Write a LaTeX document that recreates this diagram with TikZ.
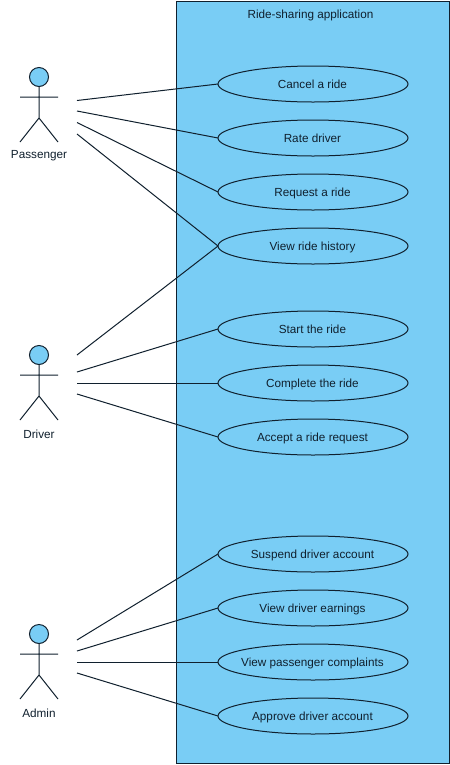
\documentclass[tikz,border=0pt]{standalone}
\usepackage{fontspec}
\setmainfont{Liberation Sans}
\usetikzlibrary{shapes.geometric}
\definecolor{fillblue}{HTML}{79CDF5}
\definecolor{inkdark}{HTML}{10202E}
\tikzset{
  x=0.75pt,y=-0.75pt,
  line/.style={draw=inkdark,line width=0.75pt},
  usecase/.style={ellipse,line,fill=fillblue,minimum width=142.5pt,minimum height=27pt,inner sep=0pt,outer sep=0pt,font=\fontsize{8.8}{11}\selectfont,text=inkdark},
  sysbox/.style={rectangle,line,fill=fillblue},
  actorlabel/.style={font=\fontsize{8.8}{11}\selectfont,text=inkdark,inner sep=0pt},
  head/.style={circle,line,fill=fillblue,minimum size=14.25pt,inner sep=0pt}
}
\newcommand{\uc}[1]{\makebox[0pt]{\vphantom{Apg}\hspace*{-0.8pt}\raisebox{-1.1pt}[0pt][0pt]{#1}}}
\newcommand{\stickactor}[7]{% name, head y, label, four line-start y
  \node[head] (#1head) at (39,#2) {};
  \coordinate (#1hip) at (39,#2+41);
  \coordinate (#1la) at (20,#2+20);
  \coordinate (#1ra) at (58,#2+20);
  \coordinate (#1ll) at (20,#2+65);
  \coordinate (#1rl) at (58,#2+65);
  \draw[line] (#1head.south) -- (#1hip) (#1la) -- (#1ra) (#1ll) -- (#1hip) -- (#1rl);
  \node[actorlabel] (#1label) at (39,#2+79) {#3};
  \coordinate (#1a) at (77,#4);
  \coordinate (#1b) at (77,#5);
  \coordinate (#1c) at (77,#6);
  \coordinate (#1d) at (77,#7);
}
\begin{document}
\begin{tikzpicture}
\useasboundingbox (0,0) rectangle (450,765);
\fill[white] (0,0) rectangle (450,765);
\draw[sysbox] (176.8,1.2) rectangle (449,763.8);
\node[actorlabel] (title) at (310.5,15) {Ride-sharing application};
\node[usecase] (cancel) at (313,84) {\uc{Cancel a ride}};
\node[usecase] (rate) at (313,138) {\uc{Rate driver}};
\node[usecase] (request) at (313,192) {\uc{Request a ride}};
\node[usecase] (history) at (313,246) {\uc{View ride history}};
\node[usecase] (start) at (313,329) {\uc{Start the ride}};
\node[usecase] (complete) at (313,383) {\uc{Complete the ride}};
\node[usecase] (accept) at (313,437) {\uc{Accept a ride request}};
\node[usecase] (suspend) at (313,554) {\uc{Suspend driver account}};
\node[usecase] (earnings) at (313,608) {\uc{View driver earnings}};
\node[usecase] (complaints) at (313,662) {\uc{View passenger complaints}};
\node[usecase] (approve) at (313,716) {\uc{Approve driver account}};
\stickactor{p}{77}{Passenger}{100.5}{111}{122.5}{134}
\stickactor{d}{355}{Driver}{355}{372}{383}{394}
\stickactor{m}{634}{Admin}{640}{651}{662}{673}
\draw[line] (pa) -- (cancel.west);
\draw[line] (pb) -- (rate.west);
\draw[line] (pc) -- (request.west);
\draw[line] (pd) -- (history.west);
\draw[line] (da) -- (history.west);
\draw[line] (db) -- (start.west);
\draw[line] (dc) -- (complete.west);
\draw[line] (dd) -- (accept.west);
\draw[line] (ma) -- (suspend.west);
\draw[line] (mb) -- (earnings.west);
\draw[line] (mc) -- (complaints.west);
\draw[line] (md) -- (approve.west);
\end{tikzpicture}
\end{document}
